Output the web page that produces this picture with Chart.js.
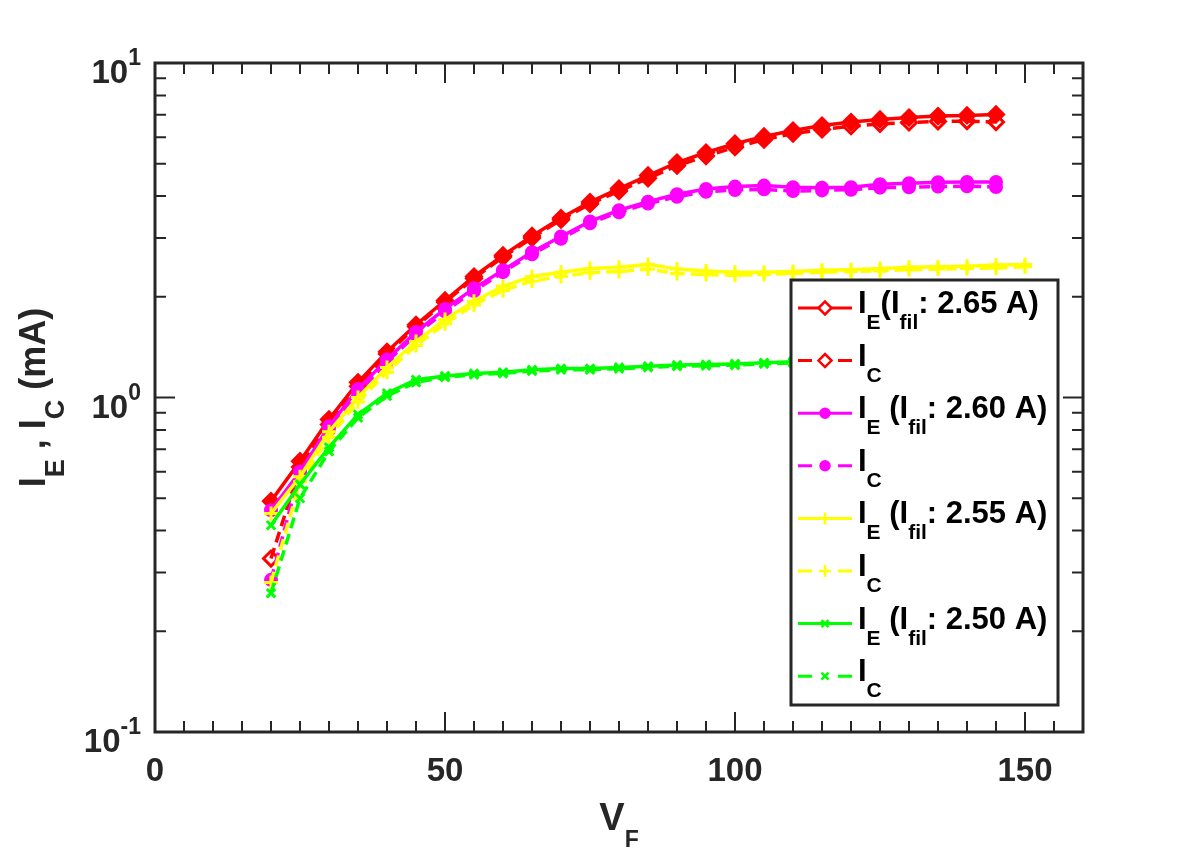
<!DOCTYPE html>
<html>
<head>
<meta charset="utf-8">
<script src="https://cdn.jsdelivr.net/npm/chart.js@4.4.1/dist/chart.umd.min.js"></script>
<style>
  html, body { margin: 0; padding: 0; background: #fff; }
  #chart { display: block; }
</style>
</head>
<body>
<canvas id="chart" width="1196" height="854"></canvas>
<script>
// V_F values (x)
const vf = [20, 25, 30, 35, 40, 45, 50, 55, 60, 65, 70, 75, 80, 85, 90, 95, 100, 105, 110, 115, 120, 125, 130, 135, 140, 145];
const vfLong = [20, 25, 30, 35, 40, 45, 50, 55, 60, 65, 70, 75, 80, 85, 90, 95, 100, 105, 110, 115, 120, 125, 130, 135, 140, 145, 150];

// currents in mA
const ie265 = [0.49, 0.645, 0.86, 1.11, 1.37, 1.65, 1.95, 2.30, 2.66, 3.04, 3.44, 3.84, 4.21, 4.61, 5.04, 5.40, 5.74, 6.03, 6.28, 6.50, 6.66, 6.78, 6.87, 6.94, 6.97, 7.02];
const ic265 = [0.33, 0.62, 0.83, 1.08, 1.35, 1.63, 1.93, 2.27, 2.63, 3.00, 3.40, 3.79, 4.14, 4.52, 4.93, 5.27, 5.60, 5.90, 6.15, 6.33, 6.47, 6.58, 6.64, 6.69, 6.70, 6.66];
const ie260 = [0.46, 0.60, 0.82, 1.06, 1.30, 1.57, 1.84, 2.12, 2.40, 2.72, 3.03, 3.36, 3.63, 3.85, 4.05, 4.20, 4.27, 4.30, 4.25, 4.24, 4.25, 4.34, 4.37, 4.40, 4.41, 4.41];
const ic260 = [0.285, 0.60, 0.80, 1.03, 1.28, 1.54, 1.81, 2.08, 2.37, 2.68, 2.98, 3.32, 3.58, 3.80, 3.98, 4.12, 4.17, 4.19, 4.14, 4.16, 4.18, 4.24, 4.25, 4.27, 4.28, 4.26];
const ie255 = [0.45, 0.58, 0.79, 1.00, 1.23, 1.47, 1.71, 1.94, 2.15, 2.30, 2.37, 2.43, 2.45, 2.50, 2.42, 2.39, 2.37, 2.37, 2.38, 2.40, 2.41, 2.43, 2.45, 2.46, 2.47, 2.49, 2.50];
const ic255 = [0.28, 0.56, 0.76, 0.97, 1.19, 1.43, 1.66, 1.89, 2.09, 2.23, 2.30, 2.36, 2.38, 2.42, 2.35, 2.33, 2.32, 2.33, 2.35, 2.37, 2.38, 2.39, 2.41, 2.42, 2.43, 2.44, 2.46];
const ie250 = [0.415, 0.55, 0.71, 0.89, 1.03, 1.13, 1.16, 1.18, 1.19, 1.21, 1.22, 1.22, 1.23, 1.24, 1.25, 1.255, 1.26, 1.27, 1.28, 1.29, 1.30, 1.31, 1.31, 1.32, 1.32, 1.33];
const ic250 = [0.26, 0.50, 0.69, 0.87, 1.01, 1.11, 1.15, 1.17, 1.18, 1.20, 1.21, 1.21, 1.22, 1.23, 1.24, 1.245, 1.25, 1.26, 1.27, 1.28, 1.29, 1.30, 1.30, 1.31, 1.31, 1.32];

// axes
const xTickValues = [0, 50, 100, 150];
const xTickLabels = ['0', '50', '100', '150'];
const yTickValues = [0.1, 1, 10];
const yTickLabels = [['10', '-1'], ['10', '0'], ['10', '1']];

// legend text, as [text, kind] pieces
const legendLabels = [
  [['I', ''], ['E', 'sub'], ['(I', ''], ['fil', 'sub'], [': 2.65 A)', '']],
  [['I', ''], ['C', 'sub']],
  [['I', ''], ['E', 'sub'], [' (I', ''], ['fil', 'sub'], [': 2.60 A)', '']],
  [['I', ''], ['C', 'sub']],
  [['I', ''], ['E', 'sub'], [' (I', ''], ['fil', 'sub'], [': 2.55 A)', '']],
  [['I', ''], ['C', 'sub']],
  [['I', ''], ['E', 'sub'], [' (I', ''], ['fil', 'sub'], [': 2.50 A)', '']],
  [['I', ''], ['C', 'sub']]
];

const FONT = '"Liberation Sans", Arial, Helvetica, sans-serif';
const AXIS = '#262626';
const DASH = [11, 6];

function pts(xs, ys) {
  return ys.map((v, i) => ({ x: xs[i], y: v }));
}

function series(data, color, dashed, style, radius, fill) {
  return {
    data: data,
    borderColor: color,
    backgroundColor: color,
    borderWidth: 3.5,
    borderDash: dashed ? DASH : [],
    pointStyle: style,
    pointRadius: radius,
    pointBorderWidth: 3,
    pointBorderColor: color,
    pointBackgroundColor: fill,
    tension: 0
  };
}

const datasets = [
  series(pts(vf, ie265), '#ff0000', false, 'rectRot', 7.5, '#ff0000'),
  series(pts(vf, ic265), '#ff0000', true, 'rectRot', 7.5, 'rgba(0,0,0,0)'),
  series(pts(vf, ie260), '#ff00ff', false, 'circle', 5.5, '#ff00ff'),
  series(pts(vf, ic260), '#ff00ff', true, 'circle', 5.5, '#ff00ff'),
  series(pts(vfLong, ie255), '#ffff00', false, 'cross', 7, '#ffff00'),
  series(pts(vfLong, ic255), '#ffff00', true, 'cross', 7, '#ffff00'),
  series(pts(vf, ie250), '#00ff00', false, 'crossRot', 6, '#00ff00'),
  series(pts(vf, ic250), '#00ff00', true, 'crossRot', 6, '#00ff00')
];
// later series on top, like the original plot
datasets.forEach((d, i) => { d.order = datasets.length - i; });

function drawRich(ctx, parts, x, y, sizes) {
  let cx = x;
  for (const [t, kind] of parts) {
    const s = sizes[kind];
    ctx.font = 'bold ' + s.size + 'px ' + FONT;
    ctx.fillText(t, cx, y + s.shift);
    cx += ctx.measureText(t).width;
  }
  return cx - x;
}

function richWidth(ctx, parts, sizes) {
  let w = 0;
  for (const [t, kind] of parts) {
    ctx.font = 'bold ' + sizes[kind].size + 'px ' + FONT;
    w += ctx.measureText(t).width;
  }
  return w;
}

const frame = {
  id: 'frame',
  afterDatasetsDraw(chart) {
    const ctx = chart.ctx;
    const a = chart.chartArea;
    const x = chart.scales.x;
    const y = chart.scales.y;
    ctx.save();

    // inward ticks on all four sides
    ctx.strokeStyle = AXIS;
    ctx.lineWidth = 2;
    ctx.beginPath();
    for (let v = 5; v < 160; v += 5) {
      const px = x.getPixelForValue(v);
      const len = xTickValues.includes(v) ? 20 : 11;
      ctx.moveTo(px, a.bottom); ctx.lineTo(px, a.bottom - len);
      ctx.moveTo(px, a.top); ctx.lineTo(px, a.top + len);
    }
    for (const dec of [0.1, 1]) {
      for (let k = 1; k <= 10; k++) {
        const v = dec * k;
        const py = y.getPixelForValue(v);
        const len = (k === 1 || k === 10) ? 20 : 11;
        ctx.moveTo(a.left, py); ctx.lineTo(a.left + len, py);
        ctx.moveTo(a.right, py); ctx.lineTo(a.right - len, py);
      }
    }
    ctx.stroke();

    ctx.lineWidth = 3;
    ctx.strokeRect(a.left, a.top, a.right - a.left, a.bottom - a.top);

    // tick labels
    ctx.fillStyle = AXIS;
    ctx.textBaseline = 'alphabetic';
    ctx.textAlign = 'center';
    ctx.font = 'bold 33px ' + FONT;
    xTickValues.forEach((v, i) => {
      ctx.fillText(xTickLabels[i], x.getPixelForValue(v), a.bottom + 49);
    });
    ctx.textAlign = 'left';
    const tickSizes = { '': { size: 33, shift: 0 }, sup: { size: 23, shift: -18 } };
    yTickValues.forEach((v, i) => {
      const parts = [[yTickLabels[i][0], ''], [yTickLabels[i][1], 'sup']];
      const w = richWidth(ctx, parts, tickSizes);
      drawRich(ctx, parts, a.left - 14 - w, y.getPixelForValue(v) + 20, tickSizes);
    });

    // axis titles
    const xt = [['V', ''], ['F', 'sub']];
    const xtSizes = { '': { size: 38, shift: 0 }, sub: { size: 23, shift: 17 } };
    const xw = richWidth(ctx, xt, xtSizes);
    drawRich(ctx, xt, (a.left + a.right) / 2 - xw / 2, a.bottom + 98, xtSizes);

    const yt = [['I', ''], ['E', 'sub'], [' , I', ''], ['C', 'sub'], [' (mA)', '']];
    const ytSizes = { '': { size: 36, shift: 0 }, sub: { size: 27, shift: 19 } };
    const yw = richWidth(ctx, yt, ytSizes);
    ctx.save();
    ctx.translate(a.left - 110, (a.top + a.bottom) / 2);
    ctx.rotate(-Math.PI / 2);
    drawRich(ctx, yt, -yw / 2, 0, ytSizes);
    ctx.restore();

    // legend box
    const lx = 791, ly = 280, lw = 267, lh = 425, rowH = 52.6;
    ctx.fillStyle = '#ffffff';
    ctx.fillRect(lx, ly, lw, lh);
    ctx.strokeStyle = AXIS;
    ctx.lineWidth = 3;
    ctx.strokeRect(lx, ly, lw, lh);

    const legSizes = { '': { size: 31, shift: 0 }, sub: { size: 21, shift: 16 } };
    chart.data.datasets.forEach((d, i) => {
      const yc = ly + 28 + i * rowH;
      ctx.strokeStyle = d.borderColor;
      ctx.lineWidth = 3;
      ctx.setLineDash(d.borderDash.length ? [14, 26] : []);
      ctx.beginPath();
      ctx.moveTo(lx + 7, yc);
      ctx.lineTo(lx + 61, yc);
      ctx.stroke();
      ctx.setLineDash([]);
      // legend markers are open/thin, as in the original
      ctx.fillStyle = d.pointStyle === 'rectRot' ? '#ffffff' : d.pointBackgroundColor;
      ctx.strokeStyle = d.pointBorderColor;
      ctx.lineWidth = 2.5;
      Chart.helpers.drawPoint(ctx, {
        pointStyle: d.pointStyle, radius: d.pointRadius - 1, rotation: 0, borderWidth: 2.5
      }, lx + 34, yc);
      ctx.fillStyle = '#000000';
      drawRich(ctx, legendLabels[i], lx + 67, yc + 5, legSizes);
    });

    ctx.restore();
  }
};

new Chart(document.getElementById('chart'), {
  type: 'line',
  data: { datasets: datasets },
  options: {
    responsive: false,
    animation: false,
    devicePixelRatio: 1,
    layout: { padding: { left: 155, top: 63, right: 113, bottom: 122 } },
    scales: {
      x: { type: 'linear', min: 0, max: 160, display: false },
      y: { type: 'logarithmic', min: 0.1, max: 10, display: false }
    },
    plugins: {
      legend: { display: false },
      tooltip: { enabled: false }
    }
  },
  plugins: [frame]
});
</script>
</body>
</html>
